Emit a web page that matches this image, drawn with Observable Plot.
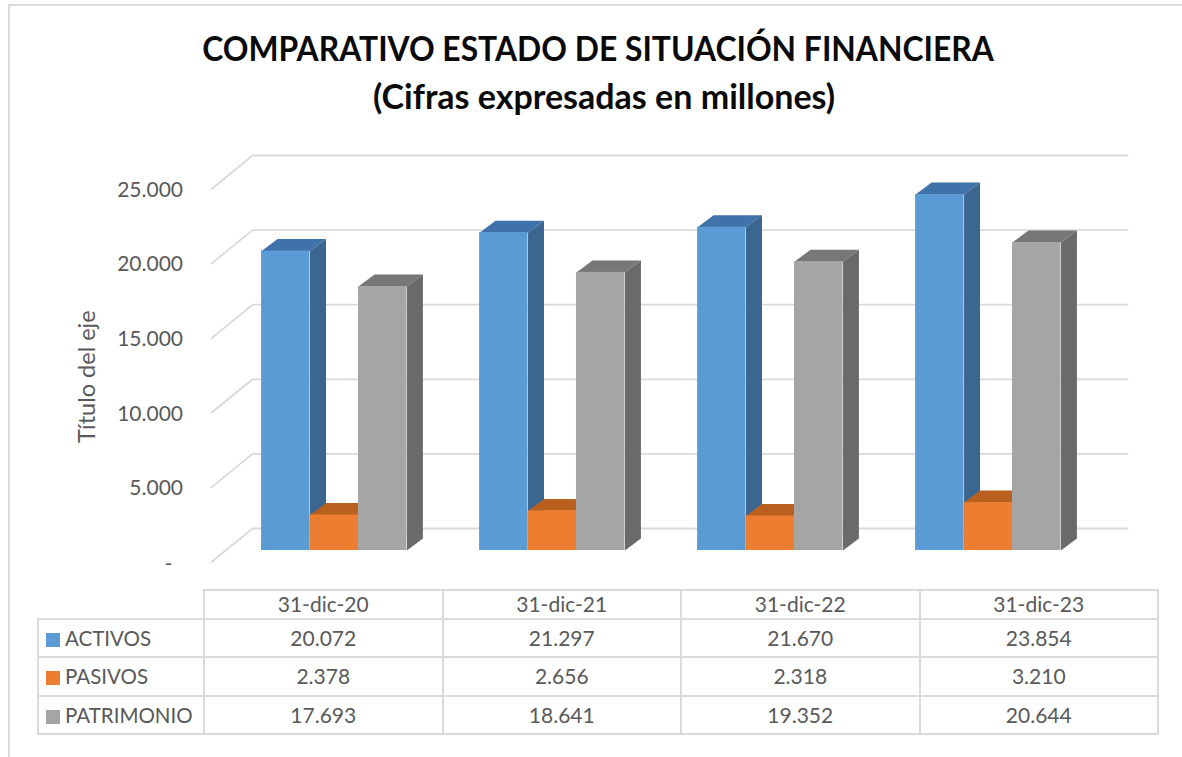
<!DOCTYPE html>
<html lang="es">
<head>
<meta charset="utf-8">
<script src="https://cdn.jsdelivr.net/npm/d3@7"></script>
<script src="https://cdn.jsdelivr.net/npm/@observablehq/plot@0.6"></script>
<style>
  html, body { margin: 0; padding: 0; background: #fff; }
  body { width: 1182px; height: 757px; overflow: hidden; position: relative; font-family: Lato, sans-serif; }
  #frame { position: absolute; left: 8px; top: 4px; width: 1174px; height: 753px; border-left: 2px solid #DADADA; border-top: 2px solid #DADADA; box-sizing: border-box; }
  #title { position: relative; height: 130px; box-sizing: border-box; padding-top: 24px; text-align: center; font-weight: 700; font-size: 34px; line-height: 48px; color: #0a0a0a; }
  #title span { display: block; white-space: nowrap; }
  #title .l1 { transform: translateX(7px) scaleX(0.936); }
  #title .l2 { transform: translateX(13px); }
  #plot { position: relative; height: 459px; }
  #plot svg { display: block; }
  table { position: absolute; left: 37px; top: 588.5px; border-collapse: collapse; table-layout: fixed; width: 1120px; color: #595959; font-size: 21px; }
  td { border: 2px solid #DADADA; text-align: center; padding: 0; height: 36.5px; line-height: 24px; }
  tr.head td { height: 27px; }
  td.blank { border-left: none; border-top: none; }
  td.name { text-align: left; padding-left: 7px; white-space: nowrap; font-size: 20.5px; }
  .key { display: inline-block; width: 14px; height: 14px; margin-right: 5px; vertical-align: -1px; }
</style>
</head>
<body>
<div id="frame"></div>
<div id="title"><span class="l1">COMPARATIVO ESTADO DE SITUACIÓN FINANCIERA</span><span class="l2">(Cifras expresadas en millones)</span></div>
<div id="plot"></div>
<table id="dataTable"></table>
<script>
const fechas = ["31-dic-20", "31-dic-21", "31-dic-22", "31-dic-23"];
const series = ["ACTIVOS", "PASIVOS", "PATRIMONIO"];
const activos = [20072, 21297, 21670, 23854];
const pasivos = [2378, 2656, 2318, 3210];
const patrimonio = [17693, 18641, 19352, 20644];
const ticks = [0, 5000, 10000, 15000, 20000, 25000];
const frontColors = ["#5B9BD5", "#ED7D31", "#A5A5A5"];
const sideColors = ["#3A6690", "#B5601F", "#6A6A6A"];
const topColors = ["#3F72A8", "#B9601F", "#777777"];

const values = [activos, pasivos, patrimonio];
const fmt = v => d3.format(",")(v).replace(/,/g, ".");

// Chart-space geometry, in category and value units
const barW = 1 / 4.5, depthX = 0.0734, depthY = 804;
const gridFrontX = -0.563, gridBackX = -0.375, gridEndX = 3.639;
const floorFront = -770, floorBack = 1474;

const front = [], polys = [], grid = [];
values.forEach((vals, s) => vals.forEach((v, c) => {
  const x1 = c - 1.5 * barW + s * barW, x2 = x1 + barW;
  const id = `${s}-${c}`;
  front.push({s, x1, x2, v, key: series[s]});
  polys.push(
    {z: id + "t", s, c: topColors[s], x: x1, y: v},
    {z: id + "t", s, c: topColors[s], x: x2, y: v},
    {z: id + "t", s, c: topColors[s], x: x2 + depthX, y: v + depthY},
    {z: id + "t", s, c: topColors[s], x: x1 + depthX, y: v + depthY},
    {z: id + "l", s, c: sideColors[s], x: x2, y: 0},
    {z: id + "l", s, c: sideColors[s], x: x2, y: v},
    {z: id + "l", s, c: sideColors[s], x: x2 + depthX, y: v + depthY},
    {z: id + "l", s, c: sideColors[s], x: x2 + depthX, y: depthY}
  );
}));
ticks.forEach(t => {
  grid.push({t, x: gridFrontX, y: t + floorFront}, {t, x: gridBackX, y: t + floorBack}, {t, x: gridEndX, y: t + floorBack});
});

const top0 = 130;
const seriesMarks = [0, 1, 2].flatMap(s => [
  Plot.line(polys.filter(d => d.s === s), {x: "x", y: "y", z: "z", fill: "c", stroke: null, curve: "linear"}),
  Plot.rectY(front.filter(d => d.s === s), {x1: "x1", x2: "x2", y1: 0, y2: "v", fill: frontColors[s], inset: 0})
]);

const chart = Plot.plot({
  width: 1182,
  height: 459,
  margin: 0,
  x: {type: "linear", domain: [0, 3], range: [333.75, 987.75], axis: null},
  y: {type: "linear", domain: [0, 25000], range: [550 - top0, 550 - top0 - 373], axis: null},
  style: {fontFamily: "Lato, sans-serif", background: "transparent", overflow: "visible"},
  marks: [
    Plot.line(grid, {x: "x", y: "y", z: "t", stroke: "#DADADA", strokeWidth: 1.8, curve: "linear"}),
    ...seriesMarks,
    Plot.text(ticks.filter(t => t > 0), {
      x: gridFrontX, y: d => d + floorFront, text: fmt, dx: -28.5, dy: 1,
      textAnchor: "end", fontSize: 21, fill: "#595959"
    }),
    Plot.text(["-"], {
      x: gridFrontX, y: floorFront, text: d => d, dx: -39, dy: 2,
      textAnchor: "end", fontSize: 21, fill: "#595959"
    }),
    Plot.text(["Título del eje"], {
      x: gridFrontX, y: 11650, text: d => d, dx: -124, rotate: -90,
      fontSize: 23.5, fill: "#595959"
    })
  ]
});
document.getElementById("plot").append(chart);

const table = d3.select("#dataTable");
const cols = table.append("colgroup");
cols.append("col").style("width", "166px");
fechas.forEach(() => cols.append("col").style("width", "238.5px"));
const head = table.append("tr").attr("class", "head");
head.append("td").attr("class", "blank");
fechas.forEach(f => head.append("td").text(f));
series.forEach((name, s) => {
  const row = table.append("tr");
  const cell = row.append("td").attr("class", "name");
  cell.append("span").attr("class", "key").style("background", frontColors[s]);
  cell.append("span").text(name);
  values[s].forEach(v => row.append("td").text(fmt(v)));
});
</script>
</body>
</html>
